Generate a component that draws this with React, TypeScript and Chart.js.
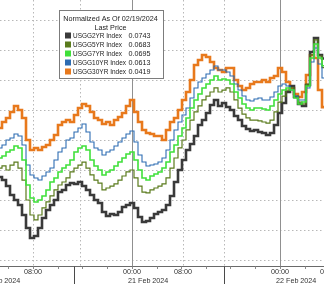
import { useEffect, useRef } from "react";
import { Chart, registerables } from "chart.js";

Chart.register(...registerables);

// ---- data (basis points, normalized to 02/19/2024) ----
const sampleStep = 4; // time-index units between samples

const usgg2 = [
  -0.47, -0.67, -1.07, -1.67, -2.0, -2.33, -3.0, -3.87, -4.53, -4.4,
  -3.87, -3.2, -2.67, -2.33, -2.0, -1.47, -1.33, -1.0, -0.87, -0.93,
  -0.8, -1.07, -1.33, -1.67, -2.0, -2.2, -2.8, -3.07, -2.93, -3.0,
  -2.8, -2.47, -2.33, -2.2, -2.53, -3.13, -3.47, -3.4, -3.2, -2.93,
  -2.8, -2.67, -2.33, -1.73, -0.8, 0.0, 0.67, 1.33, 1.73, 2.27,
  3.0, 3.33, 3.8, 4.33, 4.67, 4.27, 4.47, 4.2, 4.0, 3.6,
  3.33, 2.93, 2.73, 2.6, 2.67, 2.53, 2.47, 2.33, 2.47, 3.0,
  3.8, 4.47, 5.2, 5.6, 4.87, 4.4, 4.27, 5.67, 7.87, 8.8,
  7.67, 7.43,
];
const usgg5 = [
  0.13, 0.27, 0.0, 0.33, 0.53, 0.13, -0.67, -2.0, -3.0, -3.33,
  -3.0, -2.53, -2.13, -1.73, -1.33, -1.0, -0.8, -0.53, -0.13, 0.13,
  0.33, 0.53, 0.13, -0.33, -0.67, -0.87, -1.33, -1.2, -1.07, -0.93,
  -0.67, -0.4, -0.13, 0.0, -0.53, -1.07, -1.47, -1.53, -1.33, -1.2,
  -1.07, -0.93, -0.53, 0.13, 0.8, 1.47, 2.0, 2.67, 3.33, 3.87,
  4.27, 4.67, 4.93, 5.2, 5.47, 5.2, 5.33, 5.47, 5.2, 4.67,
  4.13, 3.73, 3.47, 3.33, 3.33, 3.27, 3.2, 3.13, 3.33, 3.87,
  4.53, 4.93, 5.33, 5.47, 4.93, 4.53, 4.4, 5.73, 7.67, 8.67,
  7.6, 6.83,
];
const usgg7 = [
  0.8, 0.93, 1.2, 1.33, 1.6, 1.47, 0.67, -1.0, -1.87, -2.13,
  -2.0, -1.73, -1.33, -0.8, -0.53, -0.13, 0.13, 0.33, 0.67, 1.2,
  1.47, 1.6, 1.33, 0.67, 0.27, 0.0, -0.33, -0.13, 0.0, 0.27,
  0.53, 0.8, 1.07, 1.2, 0.67, 0.0, -0.53, -0.67, -0.4, -0.27,
  -0.13, 0.13, 0.53, 1.2, 1.67, 2.27, 2.8, 3.47, 4.13, 4.67,
  5.07, 5.47, 5.73, 6.0, 6.27, 6.0, 6.07, 6.0, 5.73, 5.2,
  4.8, 4.4, 4.13, 4.0, 4.13, 4.13, 4.07, 4.0, 4.27, 4.67,
  5.07, 5.33, 5.47, 5.33, 4.8, 4.4, 4.53, 5.6, 7.47, 8.4,
  7.47, 6.95,
];
const usgg10 = [
  1.47, 1.67, 2.0, 2.13, 2.4, 2.27, 1.67, 0.33, -0.33, -0.53,
  -0.67, -0.4, -0.13, 0.13, 0.67, 1.2, 1.47, 2.0, 2.13, 2.53,
  2.8, 3.07, 2.53, 1.87, 1.47, 1.33, 1.0, 1.2, 1.33, 1.6,
  1.87, 2.13, 2.4, 2.6, 1.87, 1.0, 0.53, 0.27, 0.33, 0.4,
  0.53, 0.8, 1.33, 2.0, 2.67, 3.2, 3.67, 4.13, 4.8, 5.47,
  5.87, 6.13, 6.4, 6.67, 6.93, 6.67, 6.67, 6.53, 6.27, 5.73,
  5.33, 4.93, 4.67, 4.6, 4.73, 4.8, 4.67, 4.67, 4.87, 5.2,
  5.6, 5.73, 5.6, 5.33, 4.93, 4.67, 4.67, 5.47, 7.2, 8.13,
  7.07, 6.13,
];
const usgg30 = [
  2.8, 3.2, 3.47, 3.87, 4.27, 4.0, 3.47, 2.0, 1.33, 1.47,
  1.33, 1.53, 1.67, 2.0, 2.33, 3.0, 3.2, 3.33, 3.2, 3.67,
  4.13, 4.4, 4.27, 3.87, 3.47, 3.33, 3.07, 3.2, 3.0, 3.33,
  3.53, 3.8, 4.27, 4.67, 3.87, 3.2, 2.67, 2.47, 2.4, 2.27,
  2.27, 2.0, 2.67, 3.2, 3.47, 4.0, 4.67, 5.2, 6.0, 7.0,
  7.33, 7.67, 7.53, 7.2, 6.8, 6.67, 6.53, 6.8, 6.8, 6.0,
  5.6, 5.33, 5.47, 5.73, 5.87, 5.87, 6.0, 5.87, 6.13, 6.27,
  6.8, 6.53, 5.87, 5.47, 5.07, 4.87, 5.2, 6.33, 7.67, 7.47,
  5.33, 4.19,
];

const seriesNames = ["USGG2YR Index", "USGG5YR Index", "USGG7YR Index", "USGG10YR Index", "USGG30YR Index"];
const seriesData = [usgg2, usgg5, usgg7, usgg10, usgg30];
const seriesColors = ["#3a3a3a", "#5a7b1c", "#3fe03a", "#2d6cb2", "#e8791c"];
const seriesWidths = [2.6, 1.2, 1.6, 1.1, 2.6];
const drawOrder = [4, 0, 1, 3, 2]; // bottom -> top

// ---- axis description ----
const xMin = 0;
const xMax = 324;
const yMin = -6.4667;
const yMax = 11.3333;
const gridValues = [-6, -4, -2, 0, 2, 4, 6, 8, 10];
const dottedTimes = [33, 80, 183, 224];
const midnightTimes = [132, 280];
const tickTimes = [33, 132, 183, 280, 329];
const tickLabels = ["08:00", "00:00", "08:00", "00:00", "08:00"];
const minorTimes = [8, 33, 58, 82, 107, 132, 157, 181, 206, 230, 255, 280, 305];
const separatorTimes = [74, 224];
const dayTimes = [-16, 132, 280];
const dayLabels = ["20 Feb 2024", "21 Feb 2024", "22 Feb 2024"];
const legendTitle = "Normalized As Of 02/19/2024";
const legendSubtitle = "Last Price";

const FONT = '7.2px "Liberation Sans", Arial, sans-serif';

const bbgPlugin = {
  id: "bbgDecor",
  beforeDatasetsDraw(chart: any) {
    const { ctx, chartArea: a, scales } = chart;
    const x = scales.x;
    const y = scales.y;
    ctx.save();
    ctx.lineWidth = 1;
    ctx.strokeStyle = "#b8b8b8";
    ctx.setLineDash([1.5, 2.5]);
    for (const g of gridValues) {
      const py = Math.round(y.getPixelForValue(g)) + 0.5;
      ctx.beginPath();
      ctx.moveTo(a.left, py);
      ctx.lineTo(a.right, py);
      ctx.stroke();
    }
    for (const t of dottedTimes) {
      const px = Math.round(x.getPixelForValue(t)) + 0.5;
      ctx.beginPath();
      ctx.moveTo(px, a.top);
      ctx.lineTo(px, a.bottom);
      ctx.stroke();
    }
    ctx.setLineDash([]);
    ctx.strokeStyle = "#909090";
    for (const t of midnightTimes) {
      const px = Math.round(x.getPixelForValue(t)) + 0.5;
      ctx.beginPath();
      ctx.moveTo(px, a.top);
      ctx.lineTo(px, a.bottom);
      ctx.stroke();
    }
    ctx.restore();
  },
  afterDraw(chart: any) {
    const { ctx, chartArea: a, scales } = chart;
    const x = scales.x;
    ctx.save();
    const ay = Math.round(a.bottom) - 0.5;
    ctx.strokeStyle = "#6a6a6a";
    ctx.lineWidth = 1;
    ctx.beginPath();
    ctx.moveTo(0, ay);
    ctx.lineTo(chart.width, ay);
    ctx.stroke();
    ctx.strokeStyle = "#8a8a8a";
    for (const t of minorTimes) {
      const px = Math.round(x.getPixelForValue(t)) + 0.5;
      ctx.beginPath();
      ctx.moveTo(px, ay);
      ctx.lineTo(px, ay + 2.5);
      ctx.stroke();
    }
    ctx.strokeStyle = "#4a4a4a";
    for (const t of separatorTimes) {
      const px = Math.round(x.getPixelForValue(t)) + 0.5;
      ctx.beginPath();
      ctx.moveTo(px, ay);
      ctx.lineTo(px, chart.height);
      ctx.stroke();
    }
    ctx.font = FONT;
    ctx.fillStyle = "#333";
    ctx.textBaseline = "middle";
    ctx.textAlign = "center";
    tickTimes.forEach((t, i) => {
      ctx.fillText(tickLabels[i], x.getPixelForValue(t), ay + 5.5);
    });
    ctx.textAlign = "left";
    dayTimes.forEach((t, i) => {
      ctx.fillText(dayLabels[i], x.getPixelForValue(t) - 4, ay + 14.5);
    });

    // legend
    const bx = 59.5, by = 10.5, bw = 104, bh = 68;
    ctx.fillStyle = "#ffffff";
    ctx.fillRect(bx, by, bw, bh);
    ctx.strokeStyle = "#7c7c7c";
    ctx.strokeRect(bx, by, bw, bh);
    ctx.fillStyle = "#222";
    ctx.textAlign = "center";
    ctx.fillText(legendTitle, bx + bw / 2 - 1, by + 8.5, 95);
    ctx.fillText(legendSubtitle, bx + bw / 2 - 1, by + 17.5);
    seriesNames.forEach((name, i) => {
      const ry = by + 25 + i * 9;
      ctx.fillStyle = seriesColors[i];
      ctx.fillRect(bx + 5.5, ry - 3, 6, 6);
      ctx.fillStyle = "#222";
      ctx.textAlign = "left";
      ctx.fillText(name, bx + 13.5, ry + 0.5, name.length > 13 ? 53 : 49);
      const last = seriesData[i][seriesData[i].length - 1];
      ctx.fillText((last / 100).toFixed(4), bx + 69, ry + 0.5, 22);
    });
    ctx.restore();
  },
};

export default function App() {
  const ref = useRef<HTMLCanvasElement | null>(null);
  useEffect(() => {
    if (!ref.current) return;
    const datasets = [...drawOrder].reverse().map((si) => ({
      label: seriesNames[si],
      data: seriesData[si].map((v, i) => ({ x: i * sampleStep, y: v })),
      borderColor: seriesColors[si],
      backgroundColor: seriesColors[si],
      borderWidth: seriesWidths[si],
      pointRadius: 0,
      tension: 0,
      stepped: "middle" as const,
      fill: false,
    }));
    const chart = new Chart(ref.current, {
      type: "line",
      data: { datasets },
      options: {
        animation: false,
        responsive: false,
        devicePixelRatio: 1,
        layout: { padding: { left: 0, right: 0, top: 0, bottom: 17 } },
        plugins: { legend: { display: false }, tooltip: { enabled: false } },
        scales: {
          x: { type: "linear", min: xMin, max: xMax, display: false },
          y: { type: "linear", min: yMin, max: yMax, display: false },
        },
      },
      plugins: [bbgPlugin],
    });
    return () => chart.destroy();
  }, []);
  return (
    <div style={{ position: "fixed", left: 0, top: 0, width: 324, height: 284, background: "#fff" }}>
      <canvas ref={ref} width={324} height={284} style={{ display: "block" }} />
    </div>
  );
}
